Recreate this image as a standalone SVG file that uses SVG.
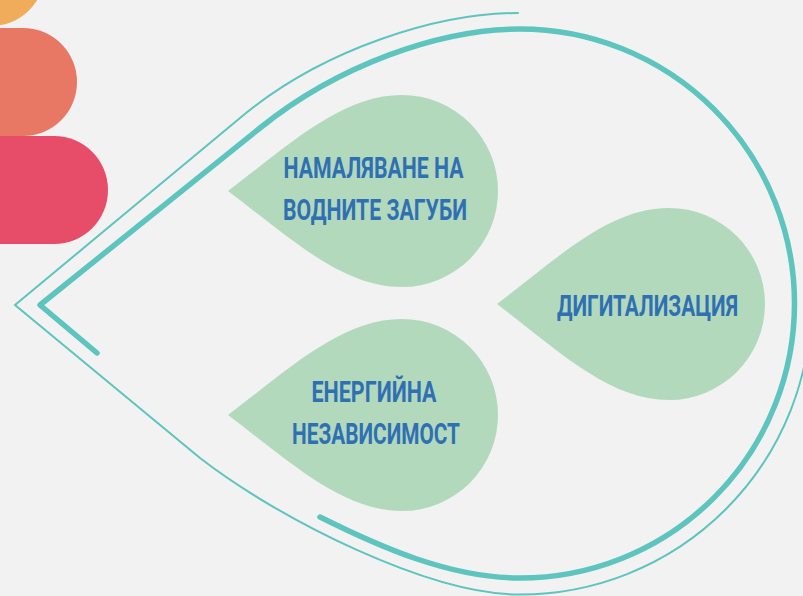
<svg xmlns="http://www.w3.org/2000/svg" width="803" height="596" viewBox="0 0 803 596">
<style>
.bg{fill:#f2f2f2}
.drop{fill:#b3d9bd}
.lbl{font-family:"Roboto","Liberation Sans",sans-serif;font-weight:700;font-size:30px;fill:#2f70b2;text-anchor:middle}
.thick{fill:none;stroke:#5ec4be;stroke-width:5.5;stroke-linecap:round;stroke-linejoin:round}
.thin{fill:none;stroke:#5ec4be;stroke-width:2;stroke-linecap:round;stroke-linejoin:miter}
</style>
<rect class="bg" x="0" y="0" width="803" height="596"/>
<g id="decor">
<path d="M-100,-82 H-9 A54,54 0 0 1 -9,26 H-100 Z" fill="#f0ac5b"/>
<path d="M-10,28 H23 A54,54 0 0 1 23,136 H-10 Z" fill="#e87863"/>
<path d="M-10,136 H54 A54,54 0 0 1 54,244 H-10 Z" fill="#e74d68"/>
</g>
<g id="connectors">
<path class="thin" d="M518,13 C440,13 324,47.5 240,118 L15,305 L200,458 C280,520 430,595 520,594.5 A291,291 0 0 0 811,303.5"/>
<path class="thick" d="M97,353 L40,305 L260,128 C338,65 440,29 520,29 A274.5,274.5 0 0 1 794.5,303.5 A274.5,274.5 0 0 1 520,578 C450,578 380,547 320,517"/>
</g>
<g id="node-water">
<path class="drop" d="M228,191 C290,144 342,95 402,95 A96,96 0 0 1 402,287 C342,287 290,238 228,191 Z"/>
<text class="lbl" x="373.5" y="178" textLength="180" lengthAdjust="spacingAndGlyphs">НАМАЛЯВАНЕ НА</text>
<text class="lbl" x="375" y="220" textLength="184" lengthAdjust="spacingAndGlyphs">ВОДНИТЕ ЗАГУБИ</text>
</g>
<g id="node-digital">
<path class="drop" d="M497,304 C559,257 609,208 669,208 A96,96 0 0 1 669,400 C609,400 559,351 497,304 Z"/>
<text class="lbl" x="647.5" y="316" textLength="181" lengthAdjust="spacingAndGlyphs">ДИГИТАЛИЗАЦИЯ</text>
</g>
<g id="node-energy">
<path class="drop" d="M228,415 C290,368 342,319 402,319 A96,96 0 0 1 402,511 C342,511 290,462 228,415 Z"/>
<text class="lbl" x="374" y="401.5" textLength="125" lengthAdjust="spacingAndGlyphs">ЕНЕРГИЙНА</text>
<text class="lbl" x="376" y="443.5" textLength="168" lengthAdjust="spacingAndGlyphs">НЕЗАВИСИМОСТ</text>
</g>
</svg>
